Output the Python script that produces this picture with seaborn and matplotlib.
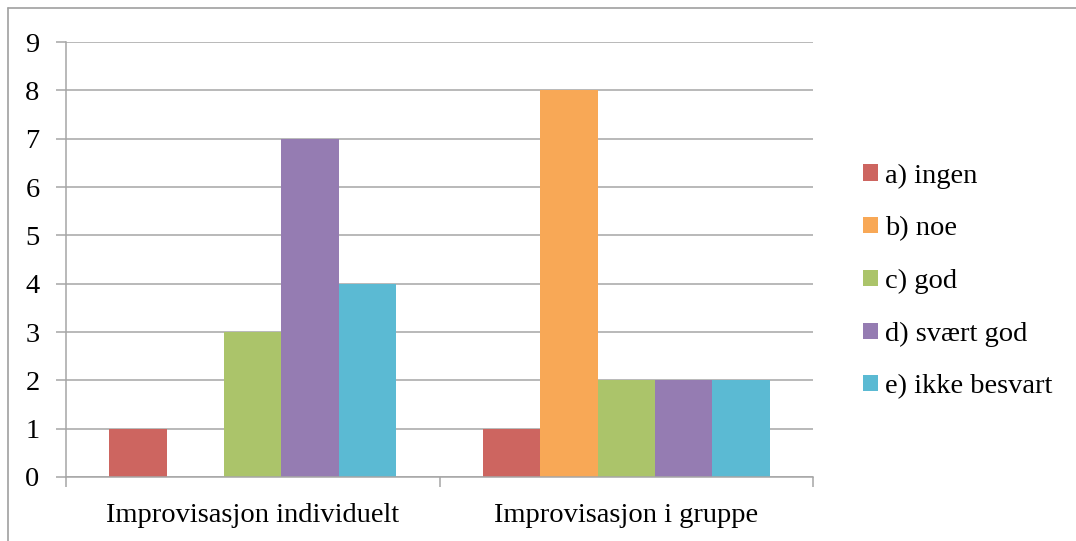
import matplotlib
matplotlib.use("Agg")
import matplotlib.pyplot as plt
from matplotlib.lines import Line2D
from matplotlib.ticker import FixedLocator
import seaborn as sns
import pandas as pd

categories = ["Improvisasjon individuelt", "Improvisasjon i gruppe"]
series = ["a) ingen", "b) noe", "c) god", "d) svært god", "e) ikke besvart"]
values = {
    "a) ingen": [1, 1],
    "b) noe": [0, 8],
    "c) god": [3, 2],
    "d) svært god": [7, 2],
    "e) ikke besvart": [4, 2],
}
colors = ["#CD6560", "#F8A856", "#ABC46A", "#957CB2", "#5BBAD3"]
y_ticks = list(range(0, 10))

rows = []
for s in series:
    for c, v in zip(categories, values[s]):
        rows.append({"category": c, "series": s, "value": v})
df = pd.DataFrame(rows)

sns.set_style("white")
plt.rcParams["font.family"] = ["Liberation Serif", "DejaVu Serif"]
plt.rcParams["text.color"] = "black"
plt.rcParams["xtick.labelcolor"] = "black"
plt.rcParams["ytick.labelcolor"] = "black"

fs = 20.5
fig = plt.figure(figsize=(10.76, 5.41), dpi=100)
ax = fig.add_axes([66 / 1076, 64 / 541, (813 - 66) / 1076, (477 - 42) / 541])

sns.barplot(data=df, x="category", y="value", hue="series", hue_order=series,
            order=categories, palette=colors, width=5 / 6.5, saturation=1,
            edgecolor="none", linewidth=0, ax=ax, legend=True)

grid_c = "#A6A6A6"
ax.set_xlim(-0.5, 1.5)
ax.set_ylim(0, 9)
ax.set_yticks(y_ticks)
ax.yaxis.grid(True, color=grid_c, linewidth=1.1)
ax.set_axisbelow(True)
for side in ["top", "right"]:
    ax.spines[side].set_visible(False)
for side in ["left", "bottom"]:
    ax.spines[side].set_color(grid_c)
    ax.spines[side].set_linewidth(1.1)

ax.set_xlabel("")
ax.set_ylabel("")
ax.tick_params(axis="y", which="major", direction="out", length=7, width=1.1,
               color=grid_c, labelsize=fs, pad=12, left=True, labelcolor="black")
ax.tick_params(axis="x", which="major", length=0, labelsize=fs, pad=19, labelcolor="black")
ax.xaxis.set_minor_locator(FixedLocator([-0.5, 0.5, 1.5]))
ax.tick_params(axis="x", which="minor", direction="out", length=7, width=1.1,
               color=grid_c, bottom=True)

handles, labels = ax.get_legend_handles_labels()
leg = ax.legend(handles, labels, loc="upper left",
                bbox_to_anchor=(852 / 1076, (541 - 152) / 541),
                bbox_transform=fig.transFigure, frameon=False, fontsize=fs,
                handlelength=0.5, handleheight=0.5, handletextpad=0.25,
                labelspacing=0.97, borderaxespad=0)
for t in leg.get_texts():
    t.set_color("black")

# outer chart frame
fig.add_artist(Line2D([8 / 1076, 8 / 1076], [0, 1 - 8 / 541], transform=fig.transFigure,
                      color="#A0A0A0", linewidth=1.2))
fig.add_artist(Line2D([8 / 1076, 1], [1 - 8 / 541, 1 - 8 / 541], transform=fig.transFigure,
                      color="#A0A0A0", linewidth=1.2))

fig.savefig("out.png", dpi=100)
